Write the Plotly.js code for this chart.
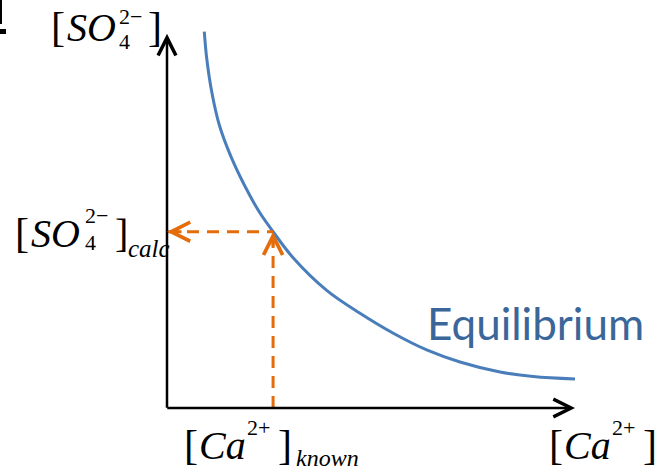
<!DOCTYPE html>
<html>
<head>
<meta charset="utf-8">
<script src="https://cdn.plot.ly/plotly-3.0.1.min.js"></script>
<style>
  html, body { margin: 0; padding: 0; background: #ffffff; }
  #chart { width: 660px; height: 472px; }
</style>
</head>
<body>
<div id="chart"></div>
<script>
// Equilibrium curve: [SO4 2-] against [Ca 2+] (arbitrary concentration units)
const caConc = [0.914, 0.973, 1.096, 1.282, 1.586, 2.034, 2.279, 2.605, 3.096, 3.914, 4.730, 5.547, 6.365, 7.181, 8.162, 8.978, 10.0];
const so4Conc = [9.223, 8.571, 7.752, 6.936, 6.120, 5.201, 4.779, 4.314, 3.676, 2.882, 2.321, 1.831, 1.422, 1.127, 0.882, 0.772, 0.711];

// Known calcium level and the sulfate level read back from the curve
const caKnown = [2.6];
const so4Calc = [4.32];

const curveLabel = 'Equilibrium';

// Axis extents (arrow tips)
const X_END = 10;
const Y_END = 9.17;

const W = 660, H = 472;
const M = { l: 167, r: 60, t: 20, b: 64 };
const PW = W - M.l - M.r, PH = H - M.t - M.b;
const px2x = p => (p - M.l) / PW;
const px2y = p => (H - M.b - p) / PH;

const BLUE = '#4a7ebb';
const ORANGE = '#e46c0a';
const SERIF = 'Liberation Serif, Times New Roman, serif';

const traces = [
  {
    x: caConc, y: so4Conc, type: 'scatter', mode: 'lines',
    line: { color: BLUE, width: 3, shape: 'spline', smoothing: 1 },
    cliponaxis: false, hoverinfo: 'skip'
  },
  {
    x: [0, caKnown[0]], y: [so4Calc[0], so4Calc[0]], type: 'scatter', mode: 'lines',
    line: { color: ORANGE, width: 3, dash: '12px,8px' }, hoverinfo: 'skip'
  },
  {
    x: [caKnown[0], caKnown[0]], y: [0, so4Calc[0]], type: 'scatter', mode: 'lines',
    line: { color: ORANGE, width: 3, dash: '12px,8px' }, hoverinfo: 'skip'
  }
];

// Text pieces placed by left edge and baseline (pixels)
function label(text, size, left, baseline, color, family) {
  return {
    xref: 'paper', yref: 'paper',
    x: px2x(left), y: px2y(baseline + 0.216 * size),
    xanchor: 'left', yanchor: 'bottom',
    text: text, showarrow: false, borderpad: 0,
    font: { family: family || SERIF, size: size, color: color || '#000000' }
  };
}

function arrow(x, y, ax, ay, color, width, size) {
  return {
    x: x, y: y, ax: ax, ay: ay, xref: 'x', yref: 'y', axref: 'x', ayref: 'y',
    text: '', showarrow: true, arrowhead: 5, arrowsize: size, arrowwidth: width,
    arrowcolor: color, standoff: 0, startstandoff: 0
  };
}

function orangeHead(x, y, dx, dy) {
  return {
    x: x, y: y, ax: dx, ay: dy, xref: 'x', yref: 'y',
    text: '', showarrow: true, arrowhead: 5, arrowsize: 1.25, arrowwidth: 3,
    arrowcolor: ORANGE, standoff: 0
  };
}

const annotations = [
  // axes
  arrow(X_END, 0, -0.03, 0, '#000000', 2.5, 1.4),
  arrow(0, Y_END, 0, -0.03, '#000000', 2.5, 1.4),
  // dashed guide arrowheads
  orangeHead(0, so4Calc[0], 16, 0),
  orangeHead(caKnown[0], so4Calc[0], 0, 16),

  // [SO4 2-] on the vertical axis
  label('[', 42, 50, 42.3),
  label('<i>SO</i>', 40, 66, 42.3),
  label('2\u2212', 22, 118, 25.5),
  label('4', 22, 118, 50),
  label(']', 42, 147, 42.3),

  // [SO4 2-]calc
  label('[', 42, 14, 248.3),
  label('<i>SO</i>', 40, 30, 248.3),
  label('2\u2212', 22, 84, 224.5),
  label('4', 22, 84, 251.7),
  label(']', 40, 113.5, 248.3),
  label('<i>calc</i>', 25, 127, 258),

  // [Ca 2+]known
  label('[', 42, 183, 460),
  label('<i>Ca</i>', 40, 197.5, 460),
  label('2+', 22, 246, 436.5),
  label(']', 42, 277, 460),
  label('<i>known</i>', 24, 295, 467),

  // [Ca 2+] on the horizontal axis
  label('[', 42, 548, 460),
  label('<i>Ca</i>', 40, 562.5, 460),
  label('2+', 22, 611, 436.5),
  label(']', 42, 642, 460),

  // curve name
  label(curveLabel, 44, 426, 340, '#3b6699', 'Lato, Calibri, sans-serif')
];

const shapes = [
  { type: 'rect', xref: 'paper', yref: 'paper', x0: px2x(0), x1: px2x(2), y0: px2y(24), y1: px2y(0),
    fillcolor: '#000000', line: { width: 0 } },
  { type: 'rect', xref: 'paper', yref: 'paper', x0: px2x(0), x1: px2x(6), y0: px2y(34), y1: px2y(29),
    fillcolor: '#000000', line: { width: 0 } }
];

const layout = {
  width: W, height: H,
  margin: M,
  paper_bgcolor: '#ffffff', plot_bgcolor: '#ffffff',
  showlegend: false,
  xaxis: { range: [0, PW / 40.8], visible: false, fixedrange: true },
  yaxis: { range: [0, PH / 40.8], visible: false, fixedrange: true },
  annotations: annotations,
  shapes: shapes
};

Plotly.newPlot('chart', traces, layout, { staticPlot: true, displayModeBar: false });
</script>
</body>
</html>
